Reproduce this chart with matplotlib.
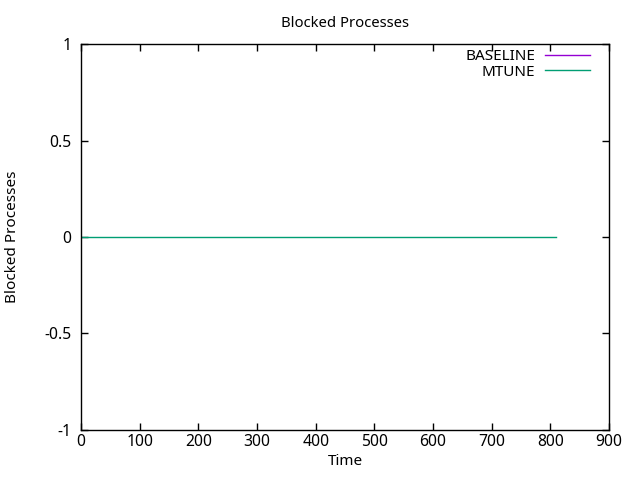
import matplotlib

matplotlib.use("Agg")
import matplotlib.pyplot as plt

plt.rcParams["font.family"] = ["Noto Sans", "DejaVu Sans"]

# blocked processes over time, both runs flat at zero
time = [0, 90, 180, 270, 360, 450, 540, 630, 720, 810]
baseline = [0, 0, 0, 0, 0, 0, 0, 0, 0, 0]
mtune = [0, 0, 0, 0, 0, 0, 0, 0, 0, 0]

fig = plt.figure(figsize=(6.4, 4.8), dpi=100)
ax = fig.add_axes([0.1266, 0.1042, 0.825, 0.8041])

# baseline drawn thinner so the MTUNE line covers it completely, as in gnuplot
ax.plot(time, baseline, color="#9400d3", linewidth=0.6, label="BASELINE")
ax.plot(time, mtune, color="#009e73", linewidth=1.0, label="MTUNE")

ax.set_xlim(0, 900)
ax.set_ylim(-1, 1)
ax.set_xticks(range(0, 901, 100))
ax.set_yticks([-1, -0.5, 0, 0.5, 1])
ax.set_yticklabels(["-1", "-0.5", "0", "0.5", "1"])
ax.tick_params(direction="in", top=True, right=True, labelsize=11.3, length=5, width=1)
ax.tick_params(axis="y", pad=7)
ax.tick_params(axis="x", pad=3)
for s in ax.spines.values():
    s.set_linewidth(1.0)

ax.set_title("Blocked Processes", fontsize=10.7, pad=12)
ax.set_xlabel("Time", fontsize=11, labelpad=3)
ax.set_ylabel("Blocked Processes", fontsize=11, labelpad=17)

leg = ax.legend(loc="upper right", frameon=False, markerfirst=False, fontsize=11,
                handlelength=2.95, handletextpad=0.65, borderaxespad=0, borderpad=0,
                labelspacing=0.05, bbox_to_anchor=(1 - 19 / 528, 1 - 5 / 386))
for h in leg.get_lines():
    h.set_linewidth(1.0)

fig.savefig("out.png", dpi=100)
